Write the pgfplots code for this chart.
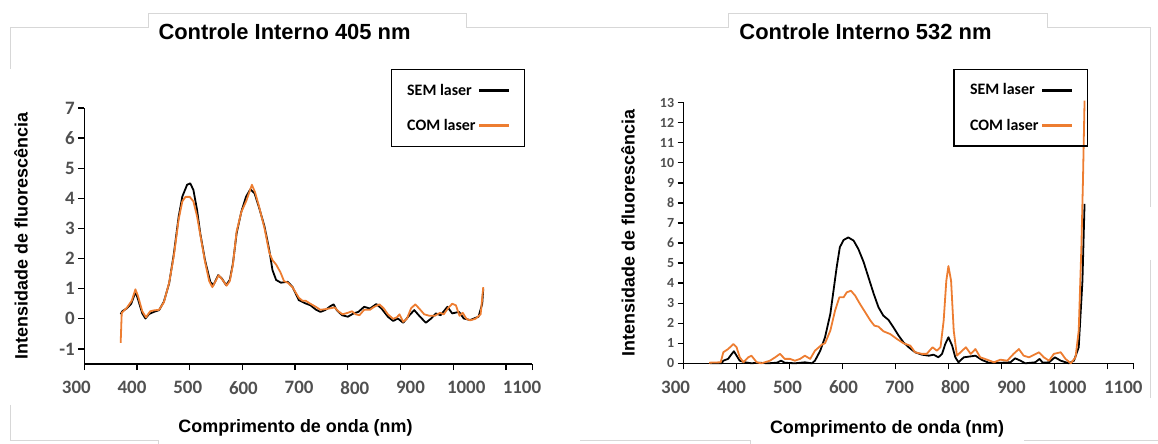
\documentclass[border=0pt]{standalone}
\usepackage{pgfplots}
\pgfplotsset{compat=1.18}
\usepackage{fontspec}
\setmainfont{Liberation Sans}
\newfontfamily\carlito{Carlito}
\definecolor{xlorange}{RGB}{237,125,49}
\definecolor{ticgray}{RGB}{80,80,80}
\definecolor{frame}{RGB}{215,215,215}
\pgfplotsset{
  common/.style={
    scale only axis,
    anchor=south west,
    axis lines*=left,
    axis line style={-, black, line width=1.5bp},
    xmin=300, xmax=1150,
    xtick={300,400,...,1100},
    extra x ticks={1150}, extra x tick labels={},
    tick align=outside,
    major tick length=6bp,
    tick style={black, line width=1.3bp},
    /pgf/number format/assume math mode=true,
    /pgf/number format/1000 sep={},
    ticklabel style={font=\carlito\bfseries\fontsize{19}{19}\selectfont, color=ticgray},
    xticklabel style={yshift=-8bp, xshift=\ticknum*3bp-8bp},
    label style={font=\bfseries\fontsize{18}{18}\selectfont},
    title style={font=\bfseries\fontsize{22}{22}\selectfont, anchor=center},
    clip=false,
    legend plot pos=right,
    legend cell align=left,
    legend image code/.code={\draw[##1, line width=3bp] (14bp,0bp) -- (44bp,0bp);},
    legend style={draw=black, fill=none, line width=1.3bp, anchor=center,
      font=\carlito\bfseries\fontsize{16}{16}\selectfont,
      inner xsep=14bp, inner ysep=12bp, row sep=19bp,
      /tikz/every even column/.append style={column sep=2bp}},
  },
  sem/.style={black, line width=1.8bp, line join=round},
  com/.style={xlorange, line width=1.8bp, line join=round},
}
\begin{document}
\begin{tikzpicture}
\useasboundingbox (0bp,0bp) rectangle (1158bp,444bp);
% faint frame remnants
\begin{scope}[x=1bp,y=1bp]
\draw[frame, line width=0.8bp] (10,375) -- (10,417) -- (148,417) -- (148,431) -- (466,431) -- (466,417) -- (580,417);
\draw[frame, line width=0.8bp] (10,39) -- (10,4) -- (158,4) -- (158,0);
\draw[frame, line width=0.8bp] (580,417) -- (728,417) -- (728,431) -- (1047,431) -- (1047,417) -- (1150,417) -- (1150,237);
\draw[frame, line width=0.8bp] (1150,184) -- (1150,46);
\draw[frame, line width=0.8bp] (580,4) -- (750,4) -- (750,0);
\draw[frame, line width=0.8bp] (1024,4) -- (1158,4);
\end{scope}

\begin{axis}[common,
  at={(84.3bp,80bp)}, width=448bp, height=256bp,
  ymin=-1.5, ymax=7, ytick={-1,0,...,7},
  title={Controle Interno 405 nm},
  title style={at={(axis description cs:0.447,1.275)}},
  xlabel={Comprimento de onda (nm)},
  xlabel style={at={(axis description cs:0.4715,-0.25)}, anchor=center},
  ylabel={Intensidade de fluorescência},
  ylabel style={at={(axis description cs:-0.141,0.5)}, anchor=center},
  legend style={at={(rel axis cs:0.834,1.0)}},
]
\addplot[sem] coordinates {
(369,0.15) (372,0.25) (380,0.34) (389,0.5) (395,0.79) (398,0.85) (401,0.7) (410,0.18) (416,0.01) (423,0.16) (432,0.23) (442,0.29) (451,0.57) (461,1.18) (470,2.17) (479,3.39) (486,4.06) (495,4.45) (501,4.5) (507,4.28) (514,3.61) (520,2.84) (529,1.95) (539,1.23) (545,1.12) (554,1.45) (561,1.34) (569,1.12) (576,1.29) (582,1.84) (589,2.84) (598,3.56) (607,4.06) (615,4.3) (623,4.17) (632,3.67) (642,3.06) (651,2.28) (657,1.62) (664,1.29) (673,1.2) (686,1.23) (695,1.06) (707,0.62) (720,0.51) (729,0.45) (739,0.31) (748,0.23) (757,0.29) (767,0.42) (773,0.48) (779,0.29) (789,0.12) (800,0.07) (811,0.18) (820,0.23) (831,0.4) (842,0.34) (854,0.49) (864,0.34) (876,0.07) (886,-0.07) (895,0.01) (905,-0.13) (917,0.12) (926,0.29) (936,0.09) (948,-0.13) (958,0.01) (967,0.18) (976,0.12) (989,0.4) (998,0.18) (1011,0.23) (1020,0.01) (1032,-0.04) (1048,0.07) (1055,0.5) (1057,1.0)
};
\addlegendentry{SEM laser}
\addplot[com] coordinates {
(369,-0.8) (371,0.2) (380,0.35) (390,0.6) (397,0.98) (402,0.75) (410,0.25) (417,0.05) (425,0.25) (432,0.28) (442,0.3) (451,0.55) (461,1.2) (470,2.1) (479,3.3) (486,3.9) (492,4.05) (500,4.05) (507,3.9) (514,3.4) (520,2.8) (529,1.9) (537,1.25) (543,1.05) (549,1.25) (555,1.45) (562,1.3) (570,1.1) (576,1.25) (582,1.8) (589,2.9) (598,3.55) (607,3.9) (613,4.2) (618,4.45) (624,4.2) (632,3.7) (642,3.0) (651,2.2) (657,1.95) (664,1.8) (672,1.55) (679,1.25) (686,1.2) (695,1.05) (707,0.7) (714,0.6) (720,0.6) (729,0.5) (739,0.4) (748,0.3) (757,0.32) (767,0.35) (775,0.38) (782,0.25) (790,0.15) (800,0.2) (808,0.25) (815,0.15) (822,0.12) (831,0.3) (842,0.3) (850,0.4) (860,0.48) (868,0.35) (876,0.15) (886,0.0) (893,0.05) (898,0.15) (905,-0.1) (912,0.0) (920,0.35) (928,0.48) (935,0.35) (945,0.15) (955,0.1) (965,0.1) (975,0.2) (982,0.15) (990,0.35) (998,0.5) (1005,0.45) (1012,0.1) (1018,0.2) (1025,0.0) (1032,-0.05) (1042,0.0) (1052,0.15) (1057,1.05)
};
\addlegendentry{COM laser}
\end{axis}

\begin{axis}[common,
  at={(683.6bp,80.7bp)}, width=450.2bp, height=260.6bp,
  ymin=0, ymax=13, ytick={0,1,...,13},
  yticklabel style={font=\carlito\bfseries\fontsize{14}{14}\selectfont},
  title={Controle Interno 532 nm},
  title style={at={(axis description cs:0.404,1.25)}},
  xlabel={Comprimento de onda (nm)},
  xlabel style={at={(axis description cs:0.452,-0.252)}, anchor=center},
  ylabel={Intensidade de fluorescência},
  ylabel style={at={(axis description cs:-0.1235,0.5)}, anchor=center},
  legend style={at={(rel axis cs:0.749,0.98)}},
]
\addplot[sem] coordinates {
(350,0) (372,0) (375,0.13) (384,0.22) (391,0.47) (395,0.6) (400,0.38) (406,0.13) (416,0.05) (428,0) (441,0.03) (460,0) (476,0.03) (484,0.13) (491,0.03) (510,0) (529,0.05) (542,0) (548,0.13) (558,0.63) (567,1.3) (577,2.46) (583,3.62) (589,4.79) (595,5.79) (602,6.15) (611,6.28) (621,6.12) (630,5.7) (640,5.04) (649,4.29) (659,3.46) (668,2.79) (677,2.38) (687,2.16) (696,1.8) (706,1.38) (715,1.05) (725,0.8) (737,0.55) (750,0.43) (763,0.38) (772,0.43) (781,0.3) (788,0.47) (794,0.96) (800,1.3) (807,0.88) (813,0.3) (819,0.05) (829,0.3) (838,0.33) (851,0.38) (863,0.17) (876,0.03) (901,0.03) (917,0.05) (926,0.25) (936,0.13) (945,0) (964,0.05) (972,0.22) (978,0.03) (990,0.05) (1001,0.3) (1012,0.13) (1027,0) (1037,0.13) (1046,0.8) (1053,4.1) (1057,7.95)
};
\addlegendentry{SEM laser}
\addplot[com] coordinates {
(348,0.03) (370,0.05) (375,0.55) (384,0.71) (394,0.96) (400,0.8) (406,0.3) (413,0.05) (422,0.3) (428,0.38) (438,0.05) (447,0) (463,0.13) (473,0.3) (482,0.47) (491,0.22) (501,0.22) (510,0.13) (520,0.22) (529,0.38) (539,0.22) (548,0.63) (561,0.93) (567,1.0) (577,1.63) (586,2.63) (594,3.29) (602,3.29) (608,3.54) (616,3.62) (624,3.37) (633,2.96) (643,2.54) (652,2.16) (660,1.88) (668,1.83) (677,1.6) (690,1.46) (703,1.21) (715,1.0) (728,0.88) (737,0.55) (750,0.47) (759,0.47) (770,0.8) (778,0.63) (785,0.8) (791,2.13) (796,4.12) (800,4.85) (805,4.12) (810,1.63) (816,0.38) (826,0.63) (833,0.8) (842,0.47) (851,0.71) (860,0.3) (873,0.18) (886,0.05) (898,0.18) (911,0.13) (923,0.47) (933,0.71) (942,0.38) (952,0.3) (971,0.55) (980,0.3) (990,0.13) (999,0.47) (1012,0.55) (1021,0.22) (1031,0) (1040,0.3) (1046,1.63) (1051,5.8) (1054,9.1) (1057,13.1)
};
\addlegendentry{COM laser}
\end{axis}
\end{tikzpicture}
\end{document}
